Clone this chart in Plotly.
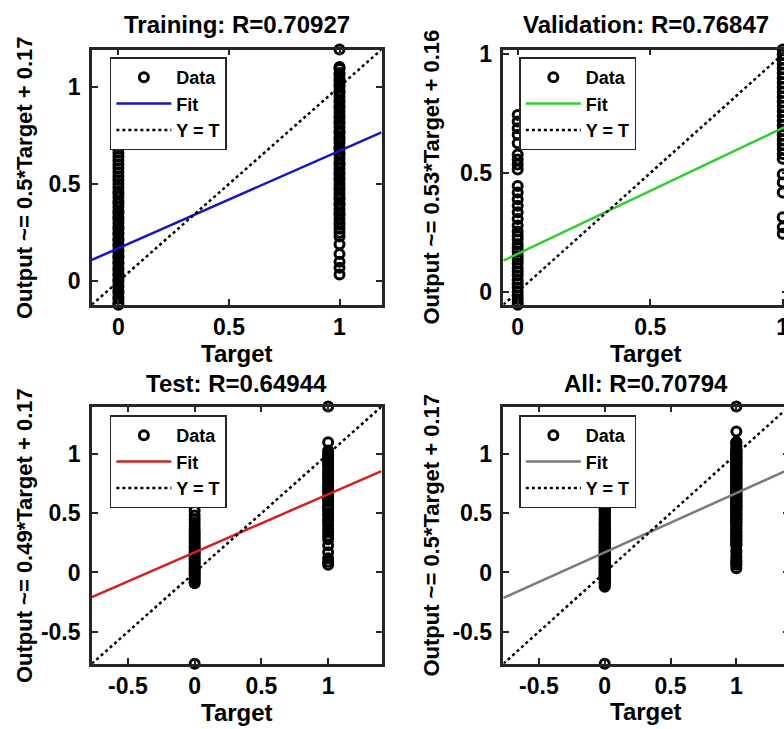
import plotly.graph_objects as go

FIG_W, FIG_H = 800, 729
FONT = "Liberation Sans, Arial, Helvetica, sans-serif"

# ---- network outputs, grouped by target class (0 or 1) ----
train_t0 = [-0.12, -0.11, -0.09, -0.08, -0.06, -0.05, -0.03, -0.02, 0.00, 0.01, 0.03,
            0.04, 0.06, 0.07, 0.09, 0.10, 0.12, 0.13, 0.15, 0.16, 0.18, 0.19, 0.21,
            0.22, 0.24, 0.25, 0.27, 0.28, 0.30, 0.32, 0.33, 0.35, 0.36, 0.38, 0.40,
            0.41, 0.43, 0.45, 0.46, 0.48, 0.50, 0.52, 0.54, 0.56, 0.58, 0.60, 0.62,
            0.64, 0.66, 0.68, 0.70]
train_t1 = [1.19, 1.10, 1.09, 1.07, 1.06, 1.04, 1.03, 1.01, 1.00, 0.98, 0.97, 0.95,
            0.93, 0.92, 0.90, 0.89, 0.87, 0.85, 0.84, 0.82, 0.81, 0.79, 0.77, 0.76,
            0.74, 0.73, 0.71, 0.69, 0.68, 0.66, 0.65, 0.63, 0.61, 0.60, 0.58, 0.56,
            0.55, 0.53, 0.52, 0.50, 0.48, 0.47, 0.45, 0.43, 0.42, 0.40, 0.39, 0.37,
            0.35, 0.34, 0.32, 0.30, 0.29, 0.27, 0.25, 0.23, 0.19, 0.14, 0.10, 0.07,
            0.035]
val_t0 = [0.745, 0.717, 0.689, 0.661, 0.626, 0.578, 0.557, 0.536, 0.515, 0.446,
          0.418, 0.390, 0.362, 0.335, 0.307, 0.279, 0.254, 0.235, 0.22, 0.20, 0.185,
          0.17, 0.15, 0.135, 0.12, 0.10, 0.085, 0.07, 0.05, 0.035, 0.02, 0.00,
          -0.015, -0.03, -0.045, -0.054]
val_t1 = [1.02, 1.00, 0.98, 0.96, 0.94, 0.92, 0.90, 0.88, 0.86, 0.84, 0.82, 0.80,
          0.78, 0.76, 0.74, 0.72, 0.70, 0.68, 0.66, 0.64, 0.62, 0.60, 0.58, 0.56,
          0.495, 0.46, 0.418, 0.314, 0.272, 0.245]
test_t0 = [-0.77, -0.09, -0.08, -0.06, -0.05, -0.03, -0.02, 0.00, 0.01, 0.03, 0.04,
           0.06, 0.08, 0.09, 0.11, 0.12, 0.14, 0.16, 0.17, 0.19, 0.21, 0.22, 0.24,
           0.26, 0.28, 0.30, 0.32, 0.34, 0.36, 0.39, 0.42, 0.45, 0.48, 0.52]
test_t1 = [1.40, 1.10, 1.03, 1.01, 0.99, 0.97, 0.95, 0.93, 0.91, 0.89, 0.86, 0.84,
           0.82, 0.80, 0.78, 0.75, 0.73, 0.71, 0.69, 0.67, 0.64, 0.62, 0.60, 0.57,
           0.55, 0.53, 0.50, 0.48, 0.45, 0.43, 0.40, 0.37, 0.34, 0.31, 0.28, 0.23,
           0.17, 0.12, 0.09, 0.065]

panel_names = ["Training", "Validation", "Test", "All"]
r_values = ["0.70927", "0.76847", "0.64944", "0.70794"]
fit_slopes = [0.5, 0.53, 0.49, 0.5]
fit_intercepts = [0.17, 0.16, 0.17, 0.17]
slope_text = ["0.5", "0.53", "0.49", "0.5"]
intercept_text = ["0.17", "0.16", "0.17", "0.17"]
fit_colors = ["#1414c8", "#33cc33", "#d42020", "#7a7a7a"]

tick_vals = [-0.5, 0, 0.5, 1]
tick_text = ["-0.5", "0", "0.5", "1"]

# ---- assemble (target, output) pairs per panel ----
groups = [(train_t0, train_t1), (val_t0, val_t1), (test_t0, test_t1)]
panel_t, panel_y = [], []
for g0, g1 in groups:
    panel_t.append([0] * len(g0) + [1] * len(g1))
    panel_y.append(list(g0) + list(g1))
panel_t.append(sum(panel_t, []))
panel_y.append(sum(panel_y, []))

# plot boxes in pixels: left, right, top, bottom
boxes = [(92, 382, 42, 300), (504, 789, 42, 300),
         (92, 382, 403, 663), (504, 790, 403, 663)]
legend_pos = [(110, 50), (520, 50), (110, 412), (520, 412)]
title_y = [17, 17, 380, 380]
xlabel_y = [349, 349, 712, 711]
ylabel_x = [24, 432, 24, 432]


def px(x):
    return x / FIG_W


def py(y):
    return 1 - y / FIG_H


fig = go.Figure()
layout = dict(
    width=FIG_W, height=FIG_H,
    margin=dict(l=0, r=0, t=0, b=0),
    paper_bgcolor="white", plot_bgcolor="white",
    font=dict(family=FONT, color="black"),
    showlegend=True,
)
annotations = []

for i in range(4):
    n = "" if i == 0 else str(i + 1)
    xa, ya = "x" + n, "y" + n
    leg = "legend" + n
    t, y = panel_t[i], panel_y[i]
    lo = min(min(t), min(y))
    hi = max(max(t), max(y))
    m, b = fit_slopes[i], fit_intercepts[i]

    fig.add_trace(go.Scatter(
        x=t, y=y, mode="markers", name="Data", xaxis=xa, yaxis=ya, legend=leg,
        cliponaxis=False,
        marker=dict(symbol="circle-open", size=9, color="black",
                    line=dict(width=3, color="black"))))
    fig.add_trace(go.Scatter(
        x=[lo, hi], y=[m * lo + b, m * hi + b], mode="lines", name="Fit",
        xaxis=xa, yaxis=ya, legend=leg,
        line=dict(color=fit_colors[i], width=2.5)))
    fig.add_trace(go.Scatter(
        x=[lo, hi], y=[lo, hi], mode="lines", name="Y = T",
        xaxis=xa, yaxis=ya, legend=leg,
        line=dict(color="black", width=2.5, dash="dot")))

    L, R, T, B = boxes[i]
    tv = [v for v in tick_vals if lo <= v <= hi]
    tt = [tick_text[tick_vals.index(v)] for v in tv]
    common = dict(
        range=[lo, hi], showline=True, linewidth=2.5, linecolor="#262626",
        mirror="ticks", ticks="inside", ticklen=6, tickwidth=1.5,
        tickcolor="#262626", showgrid=False, zeroline=False,
        tickvals=tv, ticktext=tt,
        tickfont=dict(family=FONT, size=23, color="black", weight="bold"),
    )
    layout["xaxis" + n] = dict(common, domain=[px(L), px(R)], anchor=ya)
    layout["yaxis" + n] = dict(common, domain=[py(B), py(T)], anchor=xa,
                               ticklabelstandoff=4)

    lx, ly = legend_pos[i]
    layout[leg] = dict(
        x=px(lx), y=py(ly), xanchor="left", yanchor="top",
        bgcolor="white", bordercolor="#262626", borderwidth=1.5,
        itemwidth=55, tracegroupgap=0,
        font=dict(family=FONT, size=18, color="black", weight="bold"))

    cx = (L + R) / 2
    annotations.append(dict(
        text=f"{panel_names[i]}: R={r_values[i]}", xref="paper", yref="paper",
        x=px(cx), y=py(title_y[i]), xanchor="center", yanchor="middle",
        showarrow=False, font=dict(family=FONT, size=24, weight="bold")))
    annotations.append(dict(
        text="Target", xref="paper", yref="paper",
        x=px(cx), y=py(xlabel_y[i]), xanchor="center", yanchor="middle",
        showarrow=False, font=dict(family=FONT, size=24, weight="bold")))
    annotations.append(dict(
        text=f"Output ~= {slope_text[i]}*Target + {intercept_text[i]}",
        xref="paper", yref="paper", textangle=-90,
        x=px(ylabel_x[i]), y=py((T + B) / 2), xanchor="center", yanchor="middle",
        showarrow=False, font=dict(family=FONT, size=22, weight="bold")))

layout["annotations"] = annotations
fig.update_layout(**layout)

fig.write_html(
    "out.html",
    post_script="document.body.style.margin='0';"
                "document.body.style.overflow='hidden';"
                "document.documentElement.style.overflow='hidden';")
